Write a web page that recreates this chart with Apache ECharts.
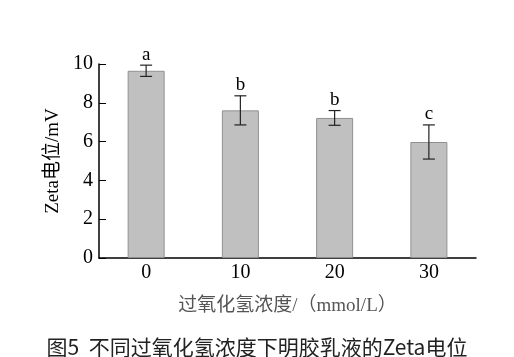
<!DOCTYPE html>
<html><head><meta charset="utf-8">
<script src="https://cdn.jsdelivr.net/npm/echarts@6/dist/echarts.min.js"></script>
<style>html,body{margin:0;padding:0;background:#fff}#c{width:514px;height:357px}</style>
</head><body><div id="c"></div>
<script>
var categories = ['0', '10', '20', '30'];
var zetaValues = [9.65, 7.61, 7.22, 5.98];
var errorValues = [0.29, 0.75, 0.38, 0.88];
var letters = ['a', 'b', 'b', 'c'];
var yTicks = [0, 2, 4, 6, 8, 10];

var chart = echarts.init(document.getElementById('c'));
var serif = "'Liberation Serif','Noto Sans CJK SC',serif";
var errData = categories.map(function (c, i) {
  return [i, zetaValues[i] - errorValues[i], zetaValues[i] + errorValues[i], letters[i]];
});
chart.setOption({
  animation: false,
  title: {
    text: '图5  不同过氧化氢浓度下明胶乳液的Zeta电位',
    left: 'center', top: 329,
    textStyle: { fontFamily: "'Noto Sans CJK SC',sans-serif", fontWeight: 'normal', fontSize: 21, color: '#222', lineHeight: 26 }
  },
  grid: { left: 99, right: 38, top: 64, bottom: 99 },
  xAxis: {
    type: 'category', data: categories,
    name: '过氧化氢浓度/（mmol/L）', nameLocation: 'middle', nameGap: 39,
    nameTextStyle: { fontFamily: serif, fontSize: 19, color: '#555' },
    axisLine: { lineStyle: { color: '#000', width: 1.5 } },
    axisTick: { inside: true, length: 7, lineStyle: { color: '#000' } },
    axisLabel: { fontFamily: serif, fontSize: 20, color: '#000', margin: 5 }
  },
  yAxis: {
    type: 'value', min: yTicks[0], max: yTicks[yTicks.length - 1], interval: 2,
    name: 'Zeta电位/mV', nameLocation: 'middle', nameGap: 28, nameRotate: 90,
    nameTextStyle: { fontFamily: serif, fontSize: 19, color: '#000' },
    axisLine: { show: true, lineStyle: { color: '#000', width: 1.5 } },
    axisTick: { show: true, inside: true, length: 7, lineStyle: { color: '#000' } },
    axisLabel: { fontFamily: serif, fontSize: 20, color: '#000', margin: 6 },
    splitLine: { show: false }
  },
  series: [{
    type: 'bar', data: zetaValues, barWidth: 37,
    itemStyle: { color: '#c0c0c0', borderColor: '#909090', borderWidth: 1 }
  }, {
    type: 'custom', data: errData, z: 5,
    renderItem: function (params, api) {
      var x = api.value(0);
      var lo = api.coord([x, api.value(1)]);
      var hi = api.coord([x, api.value(2)]);
      var hw = 6;
      var st = { stroke: '#222', lineWidth: 1.2 };
      return {
        type: 'group', children: [
          { type: 'line', shape: { x1: lo[0], y1: lo[1], x2: hi[0], y2: hi[1] }, style: st },
          { type: 'line', shape: { x1: lo[0] - hw, y1: lo[1], x2: lo[0] + hw, y2: lo[1] }, style: st },
          { type: 'line', shape: { x1: hi[0] - hw, y1: hi[1], x2: hi[0] + hw, y2: hi[1] }, style: st },
          { type: 'text', style: { text: letters[params.dataIndex], x: hi[0], y: hi[1] - 1, textAlign: 'center', textVerticalAlign: 'bottom', font: "19px 'Liberation Serif',serif", fill: '#000' } }
        ]
      };
    }
  }]
});
</script></body></html>
